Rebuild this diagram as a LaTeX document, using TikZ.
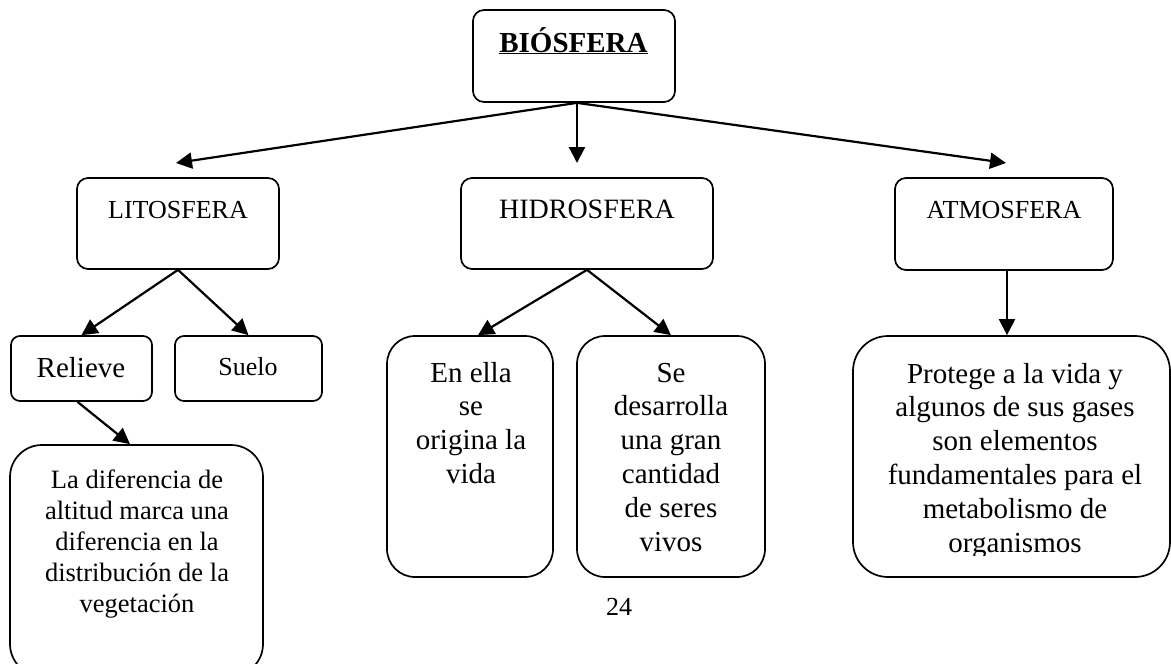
\documentclass[tikz,border=0pt]{standalone}
\usepackage{fontspec}
\setmainfont{Liberation Serif}
\usetikzlibrary{arrows.meta}
\newcommand\fstitle{\fontsize{29}{33}\selectfont}
\newcommand\fsmain{\fontsize{26}{30}\selectfont}
\newcommand\fshid{\fontsize{28}{32}\selectfont}
\newcommand\fsrel{\fontsize{29}{33}\selectfont}
\newcommand\fsbig{\fontsize{26.5}{31}\selectfont}
\newcommand\fstall{\fontsize{29}{33.8}\selectfont}
\tikzset{
  box/.style={draw, rectangle, line width=1.7pt, inner sep=0pt},
  arr/.style={line width=2.2pt, -{Triangle[length=16pt,width=16pt]}},
  txt/.style={align=center, anchor=base, inner sep=0pt}
}
\begin{document}
\begin{tikzpicture}[x=1pt,y=-1pt]
\useasboundingbox (0,0) rectangle (1171,664);
% boxes
\node[box, rounded corners=11pt, minimum width=202pt, minimum height=92pt] (bio) at (574,56) {};
\node[box, rounded corners=11pt, minimum width=202pt, minimum height=91pt] (lito) at (178,223.5) {};
\node[box, rounded corners=11pt, minimum width=252pt, minimum height=91pt] (hidro) at (587,223.5) {};
\node[box, rounded corners=11pt, minimum width=218pt, minimum height=92pt] (atmo) at (1004,224) {};
\node[box, rounded corners=9pt, minimum width=141pt, minimum height=65pt] (relieve) at (81.5,368.5) {};
\node[box, rounded corners=9pt, minimum width=147pt, minimum height=65pt] (suelo) at (248.5,368.5) {};
\node[box, rounded corners=32pt, minimum width=253pt, minimum height=231pt] (big) at (136.5,560.5) {};
\node[box, rounded corners=28pt, minimum width=166pt, minimum height=241pt] (enella) at (470,456.5) {};
\node[box, rounded corners=28pt, minimum width=188pt, minimum height=241pt] (se) at (671,456.5) {};
\node[box, rounded corners=35pt, minimum width=317pt, minimum height=241pt] (protege) at (1011.5,456.5) {};
% texts (base anchor of a multi-line text = baseline of its last line)
\node[txt, font=\fstitle] (biot) at (573.5,52) {\underline{\textbf{BIÓSFERA}}};
\node[txt, font=\fsmain] (litot) at (178,218) {LITOSFERA};
\node[txt, font=\fshid] (hidrot) at (587,218) {HIDROSFERA};
\node[txt, font=\fsmain] (atmot) at (1004,218) {ATMOSFERA};
\node[txt, font=\fsrel] (relievet) at (81,377) {Relieve};
\node[txt, font=\fsmain] (suelot) at (248,375) {Suelo};
\node[txt, font=\fsbig] (bigt) at (137,612) {La diferencia de\\altitud marca una\\diferencia en la\\distribución de la\\vegetación};
\node[txt, font=\fstall] (enellat) at (471,483.4) {En ella\\se\\origina la\\vida};
\node[txt, font=\fstall] (set) at (671,551) {Se\\desarrolla\\una gran\\cantidad\\de seres\\vivos};
\begin{scope}
\clip (853,336) rectangle (1170,555.5);
\node[txt, font=\fstall] (prott) at (1015,552) {Protege a la vida y\\algunos de sus gases\\son elementos\\fundamentales para el\\metabolismo de\\organismos};
\end{scope}
\node[txt, font=\fsmain] (page) at (619,615) {24};
% connectors
\coordinate (tl) at (176,163);
\coordinate (tm) at (577,163);
\coordinate (tr) at (1006,163);
\draw[arr] ([xshift=3pt]bio.south) -- (tl);
\draw[arr] ([xshift=3pt]bio.south) -- (tm);
\draw[arr] ([xshift=3pt]bio.south) -- (tr);
\draw[arr] (lito.south) -- (relieve.north);
\draw[arr] (lito.south) -- (suelo.north);
\draw[arr] ([xshift=-4pt]relieve.south) -- ([xshift=-6.5pt]big.north);
\draw[arr] (hidro.south) -- ([xshift=8pt]enella.north);
\draw[arr] (hidro.south) -- (se.north);
\draw[arr] ([xshift=3pt]atmo.south) -- ([xshift=3pt]atmo.south |- protege.north);
\end{tikzpicture}
\end{document}
